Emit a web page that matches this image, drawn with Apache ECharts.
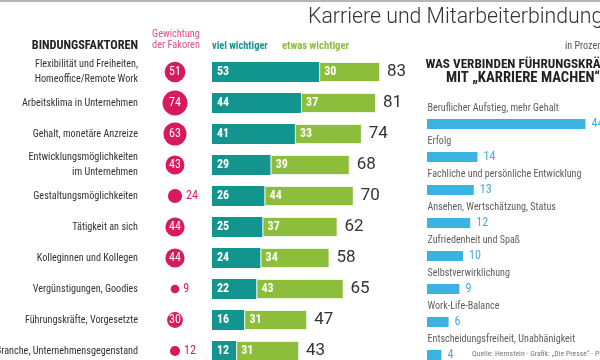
<!DOCTYPE html>
<html><head><meta charset="utf-8">
<script src="https://cdn.jsdelivr.net/npm/echarts@6/dist/echarts.min.js"></script>
<style>html,body{margin:0;padding:0;background:#fff}#c{width:600px;height:360px}</style>
</head><body><div id="c"></div>
<script>
var factors = ["Flexibilität und Freiheiten,\nHomeoffice/Remote Work","Arbeitsklima in Unternehmen","Gehalt, monetäre Anzreize","Entwicklungsmöglichkeiten\nim Unternehmen","Gestaltungsmöglichkeiten","Tätigkeit an sich","Kolleginnen und Kollegen","Vergünstigungen, Goodies","Führungskräfte, Vorgesetzte","Branche, Unternehmensgegenstand"];
var weights = [51,74,63,43,24,44,44,9,30,12];
var vielWichtiger = [53,44,41,29,26,25,24,22,16,12];
var etwasWichtiger = [30,37,33,39,44,37,34,43,31,31];
var totals = [83,81,74,68,70,62,58,65,47,43];
var careerItems = ["Beruflicher Aufstieg, mehr Gehalt","Erfolg","Fachliche und persönliche Entwicklung","Ansehen, Wertschätzung, Status","Zufriedenheit und Spaß","Selbstverwirklichung","Work-Life-Balance","Entscheidungsfreiheit, Unabhänigkeit"];
var careerValues = [44,14,13,12,10,9,6,4];

// pick the narrowest installed font
var ctx = document.createElement('canvas').getContext('2d');
function w(font, s){ ctx.font = font; return ctx.measureText(s).width; }
var cands = ['Liberation Sans Narrow','Arial Narrow','Noto Sans ExtraCondensed','Noto Sans Condensed','Roboto Condensed','DejaVu Sans Condensed','Liberation Sans'];
var sample = 'Flexibilität und Freiheiten,';
var best = null, bestW = 1e9;
cands.forEach(function(f){
  var a = w('12px "'+f+'", monospace', sample), b = w('12px monospace', sample);
  var c = w('12px "'+f+'", serif', sample), d = w('12px serif', sample);
  if (Math.abs(a-b) > 0.5 || Math.abs(c-d) > 0.5) { if (a < bestW) { bestW = a; best = f; } }
});
var NF = '"' + (best || 'DejaVu Sans Condensed') + '", sans-serif';
function fit(text, weight, target, maxS){
  var s = 12 * target / w(weight+' 12px '+NF, text);
  return Math.round(Math.min(maxS || 16, Math.max(7, s))*10)/10;
}
var sLab = fit('Flexibilität und Freiheiten,', 'normal', 103);
var sRight = fit('Beruflicher Aufstieg, mehr Gehalt', 'normal', 131);
var sNum = Math.min(14, sLab*1.18);

var TEAL = '#13958f', GREEN = '#8cbe3c', PINK = '#d7195d', BLUE = '#3bb3e1', BLUEL = '#45aed8', DARK = '#333';

var chart = echarts.init(document.getElementById('c'), null, {renderer:'canvas'});
chart.setOption({
  animation:false,
  grid:[
    {left:212, top:56.5, width:202.4, height:310, outerBoundsMode:'none', containLabel:false},
    {left:150, top:56.5, width:50, height:310, outerBoundsMode:'none', containLabel:false},
    {left:427, top:107.5, width:198, height:264, outerBoundsMode:'none', containLabel:false}
  ],
  xAxis:[
    {gridIndex:0, type:'value', min:0, max:100, show:false},
    {gridIndex:1, type:'value', min:0, max:1, show:false},
    {gridIndex:2, type:'value', min:0, max:55, show:false}
  ],
  yAxis:[
    {gridIndex:0, type:'category', data:factors, inverse:true,
     axisLine:{show:false}, axisTick:{show:false},
     axisLabel:{margin:74, fontFamily:NF, fontSize:sLab, color:DARK, lineHeight:15, align:'right'}},
    {gridIndex:1, type:'category', data:factors, inverse:true, show:false},
    {gridIndex:2, type:'category', data:careerItems, inverse:true, show:false}
  ],
  series:[
    {type:'bar', xAxisIndex:0, yAxisIndex:0, stack:'a', data:vielWichtiger, barWidth:20,
     itemStyle:{color:TEAL},
     label:{show:true, position:'insideLeft', distance:5, color:'#fff', fontFamily:NF, fontSize:sNum, fontWeight:'bold'}},
    {type:'bar', xAxisIndex:0, yAxisIndex:0, stack:'a', data:etwasWichtiger, barWidth:20,
     itemStyle:{color:GREEN, borderColor:'#fff', borderWidth:0.8},
     label:{show:true, position:'insideLeft', distance:5, color:'#fff', fontFamily:NF, fontSize:sNum, fontWeight:'bold'}},
    {type:'bar', xAxisIndex:0, yAxisIndex:0, stack:'a', data:totals.map(function(){return 0;}), barWidth:20,
     itemStyle:{color:'transparent'},
     label:{show:true, position:'right', distance:7, color:DARK, fontFamily:"Roboto,sans-serif", fontSize:17,
       formatter:function(p){return totals[p.dataIndex];}}},
    {type:'scatter', xAxisIndex:1, yAxisIndex:1,
     data:weights.map(function(v,i){return {value:[0.5,i], symbolSize:2.9*Math.sqrt(v),
       label:v>=30?{position:'inside', color:'#fff', fontSize:sNum}:{position:'right', distance:4, color:PINK, fontSize:sNum}};}),
     itemStyle:{color:PINK, opacity:1},
     label:{show:true, fontFamily:NF, formatter:function(p){return weights[p.dataIndex];}}},
    {type:'bar', xAxisIndex:2, yAxisIndex:2, data:careerValues, barWidth:10,
     itemStyle:{color:BLUE},
     label:{show:true, position:'right', distance:6, color:BLUEL, fontFamily:NF, fontSize:Math.min(15, sRight*1.2)}},
    {type:'scatter', xAxisIndex:2, yAxisIndex:2, symbolSize:1,
     data:careerItems.map(function(n,i){return [0,i];}),
     itemStyle:{color:'rgba(0,0,0,0)'},
     label:{show:true, position:'right', distance:0, offset:[0,-16], color:DARK, fontFamily:NF, fontSize:sRight,
       formatter:function(p){return careerItems[p.dataIndex];}}}
  ],
  graphic:[
    {type:'rect', shape:{x:0,y:0,width:600,height:2}, style:{fill:'#b5b5b5'}},
    {type:'text', left:308, top:7, style:{text:'Karriere und Mitarbeiterbindung', font:'300 21.3px Roboto, sans-serif', fill:DARK}},
    {type:'text', x:138, y:40, style:{text:'BINDUNGSFAKTOREN', font:'bold '+fit('BINDUNGSFAKTOREN','bold',106)+'px '+NF, fill:'#222', textAlign:'right'}},
    {type:'text', x:176, y:29, style:{text:'Gewichtung\nder Fakoren', font:fit('Gewichtung','normal',48)+'px '+NF, fill:'#e0508a', textAlign:'center', lineHeight:11}},
    {type:'text', x:212, y:41, style:{text:'viel wichtiger', font:'bold '+fit('viel wichtiger','bold',56)+'px '+NF, fill:TEAL}},
    {type:'text', x:282, y:41, style:{text:'etwas wichtiger', font:'bold '+fit('etwas wichtiger','bold',67)+'px '+NF, fill:GREEN}},
    {type:'text', x:565, y:41, style:{text:'in Prozent', font:sRight+'px '+NF, fill:'#555'}},
    {type:'text', x:523, y:58, style:{text:'WAS VERBINDEN FÜHRUNGSKRÄFTE', font:'bold '+fit('WAS VERBINDEN FÜHRUNGSKRÄFTE','bold',196)+'px '+NF, fill:'#222', textAlign:'center'}},
    {type:'text', x:523, y:71, style:{text:'MIT „KARRIERE MACHEN“', font:'bold '+fit('MIT „KARRIERE MACHEN“','bold',154)+'px '+NF, fill:'#222', textAlign:'center'}},
    {type:'text', x:472, y:350, style:{text:'Quelle: Hernstein · Grafik: „Die Presse“ · PP', font:fit('Quelle: Hernstein · Grafik: „Die Presse“ · P','normal',127)+'px '+NF, fill:'#777'}}
  ]
});
</script></body></html>
